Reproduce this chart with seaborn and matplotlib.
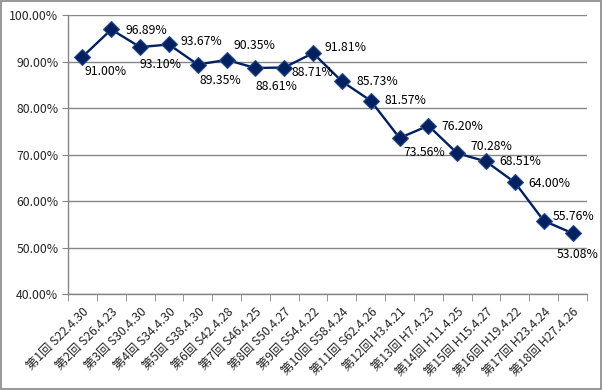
import numpy as np
import pandas as pd
import seaborn as sns
import matplotlib.pyplot as plt
from matplotlib.patches import Rectangle
from matplotlib.ticker import FixedLocator, PercentFormatter

# election rounds and dates
rounds = ["第1回", "第2回", "第3回", "第4回", "第5回", "第6回", "第7回", "第8回", "第9回",
          "第10回", "第11回", "第12回", "第13回", "第14回", "第15回", "第16回", "第17回", "第18回"]
dates = ["S22.4.30", "S26.4.23", "S30.4.30", "S34.4.30", "S38.4.30", "S42.4.28", "S46.4.25",
         "S50.4.27", "S54.4.22", "S58.4.24", "S62.4.26", "H3.4.21", "H7.4.23", "H11.4.25",
         "H15.4.27", "H19.4.22", "H23.4.24", "H27.4.26"]
turnout = [91.00, 96.89, 93.10, 93.67, 89.35, 90.35, 88.61, 88.71, 91.81,
           85.73, 81.57, 73.56, 76.20, 70.28, 68.51, 64.00, 55.76, 53.08]

# label offsets in pixels (dx, dy up)
label_offsets = [(23, -15), (35, -1), (20, -17), (32, 3), (23, -16), (28, 14), (21, -19),
                 (28, -5), (32, 6), (35, 0), (35, 0), (25, -15), (34, -1), (34, 7),
                 (34, 0), (34, -1), (30, 4), (5, -21)]

labels = [f"{r} {d}" for r, d in zip(rounds, dates)]
df = pd.DataFrame({"pos": np.arange(len(turnout)), "turnout": turnout})

sns.set_style("white")
plt.rcParams["font.family"] = ["Noto Sans CJK JP", "DejaVu Sans"]

navy = "#002060"
grid_c = "#868686"

fig = plt.figure(figsize=(6.02, 3.90), dpi=100)
ax = fig.add_axes([0.113, 0.246, 0.862, 0.7155])

sns.lineplot(data=df, x="pos", y="turnout", ax=ax, color=navy, linewidth=1.7,
             marker="D", markersize=8, markeredgecolor="#2A4A8A", markeredgewidth=0.8)

for i, v in enumerate(turnout):
    dx, dy = label_offsets[i]
    ax.annotate(f"{v:.2f}%", (i, v), xytext=(dx, dy), textcoords="offset pixels",
                ha="center", va="center", fontsize=8.8, color="black")

ax.set_xlim(-0.5, len(turnout) - 0.5)
ax.set_ylim(40, 100)
ax.set_yticks(np.arange(40, 101, 10))
ax.yaxis.set_major_formatter(PercentFormatter(decimals=2))
ax.set_xticks(df["pos"])
ax.set_xticklabels(labels, rotation=45, ha="right", rotation_mode="anchor", fontsize=8.8)
ax.xaxis.set_minor_locator(FixedLocator(np.arange(-0.5, len(turnout), 1)))
ax.tick_params(axis="x", which="major", length=0, pad=8)
ax.tick_params(axis="x", which="minor", length=5, color=grid_c, direction="out", bottom=True)
ax.tick_params(axis="y", length=4, color=grid_c, direction="out", left=True, labelsize=8.8, pad=3)

ax.grid(axis="y", color=grid_c, linewidth=1)
ax.set_axisbelow(True)
for side in ["top", "right"]:
    ax.spines[side].set_visible(False)
for side in ["left", "bottom"]:
    ax.spines[side].set_color(grid_c)
    ax.spines[side].set_linewidth(1)
ax.set_xlabel("")
ax.set_ylabel("")

fig.add_artist(Rectangle((0.002, 0.003), 0.996, 0.994, transform=fig.transFigure,
                         fill=False, edgecolor=grid_c, linewidth=1.2))

fig.savefig("out.png", dpi=100)
